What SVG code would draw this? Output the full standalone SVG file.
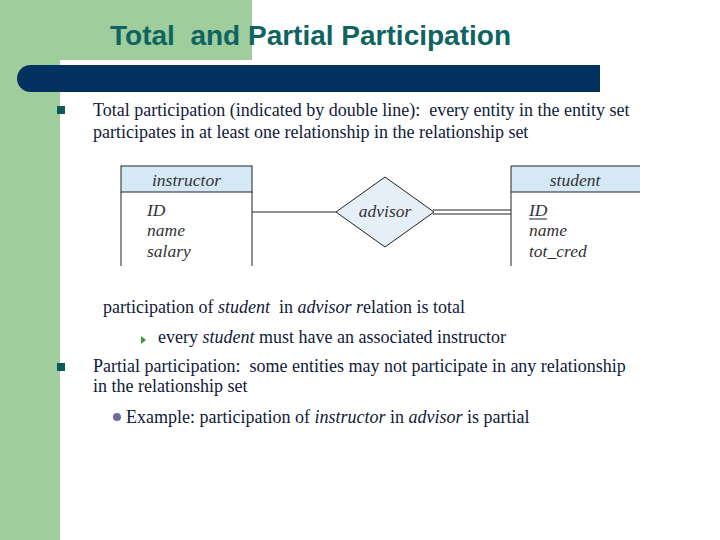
<svg xmlns="http://www.w3.org/2000/svg" width="720" height="540" viewBox="0 0 720 540">
<style>
.title{font-family:"Liberation Sans",Arial,sans-serif;font-weight:bold;font-size:27px;fill:#0f6462}
.body{font-family:"Liberation Serif","Times New Roman",serif;font-size:18px;fill:#101a38}
.it{font-style:italic}
.er{font-family:"Liberation Serif","Times New Roman",serif;font-style:italic;font-size:17.5px;fill:#333}
.hdr{fill:#d5e8f6;stroke:#222;stroke-width:1}
.box{fill:none;stroke:#222;stroke-width:1}
.ln{stroke:#222;stroke-width:1;fill:none}
</style>
<rect x="0" y="0" width="720" height="540" fill="#ffffff"/>
<rect x="0" y="0" width="252" height="60" fill="#9fcd9b"/>
<rect x="0" y="0" width="60" height="540" fill="#9fcd9b"/>
<rect x="60" y="60" width="700" height="520" rx="12" fill="#ffffff"/>
<path d="M600 65 H30.5 A13.5 13.5 0 0 0 30.5 92 H600 Z" fill="#033160"/>
<text class="title" x="110" y="45" textLength="401" lengthAdjust="spacingAndGlyphs" xml:space="preserve">Total  and Partial Participation</text>

<rect x="57" y="106" width="8" height="8" fill="#0b5a5a"/>
<text class="body" x="93" y="116" xml:space="preserve">Total participation (indicated by double line):  every entity in the entity set</text>
<text class="body" x="93" y="138">participates in at least one relationship in the relationship set</text>

<g id="connectors">
<line class="ln" x1="252" y1="212" x2="336" y2="212"/>
<line class="ln" x1="433" y1="210" x2="511" y2="210"/>
<line class="ln" x1="433" y1="214" x2="511" y2="214"/>
</g>

<g id="instructor">
<rect class="hdr" x="121" y="166" width="131" height="26"/>
<path class="ln" d="M121 192 V266 M252 192 V266"/>
<text class="er" x="186.5" y="186" text-anchor="middle">instructor</text>
<text class="er" x="147" y="216">ID</text>
<text class="er" x="147" y="236">name</text>
<text class="er" x="147" y="257">salary</text>
</g>

<g id="advisor">
<polygon points="336,212 385,177 434,212 385,247" fill="#e6eff8" stroke="#222" stroke-width="1"/>
<text class="er" x="385" y="217" text-anchor="middle">advisor</text>
</g>

<g id="student">
<path class="hdr" d="M640 166 H511 V192 H640"/>
<path class="ln" d="M511 192 V266"/>
<text class="er" x="575" y="186" text-anchor="middle">student</text>
<text class="er" x="529" y="216">ID</text>
<line class="ln" x1="529" y1="219" x2="547" y2="219"/>
<text class="er" x="529" y="236">name</text>
<text class="er" x="529" y="257">tot_cred</text>
</g>

<text class="body" x="103" y="313" xml:space="preserve">participation of <tspan class="it">student</tspan>  in <tspan class="it">advisor r</tspan>elation is total</text>
<polygon points="141,336 146,340 141,344" fill="#3a9a3a"/>
<text class="body" x="158" y="343">every <tspan class="it">student</tspan> must have an associated instructor</text>
<rect x="57" y="363" width="8" height="8" fill="#0b5a5a"/>
<text class="body" x="93" y="372" xml:space="preserve">Partial participation:  some entities may not participate in any relationship</text>
<text class="body" x="93" y="392">in the relationship set</text>
<circle cx="117" cy="417" r="4" fill="#6c6c9c"/>
<text class="body" x="126" y="423">Example: participation of <tspan class="it">instructor</tspan> in <tspan class="it">advisor</tspan> is partial</text>
</svg>
